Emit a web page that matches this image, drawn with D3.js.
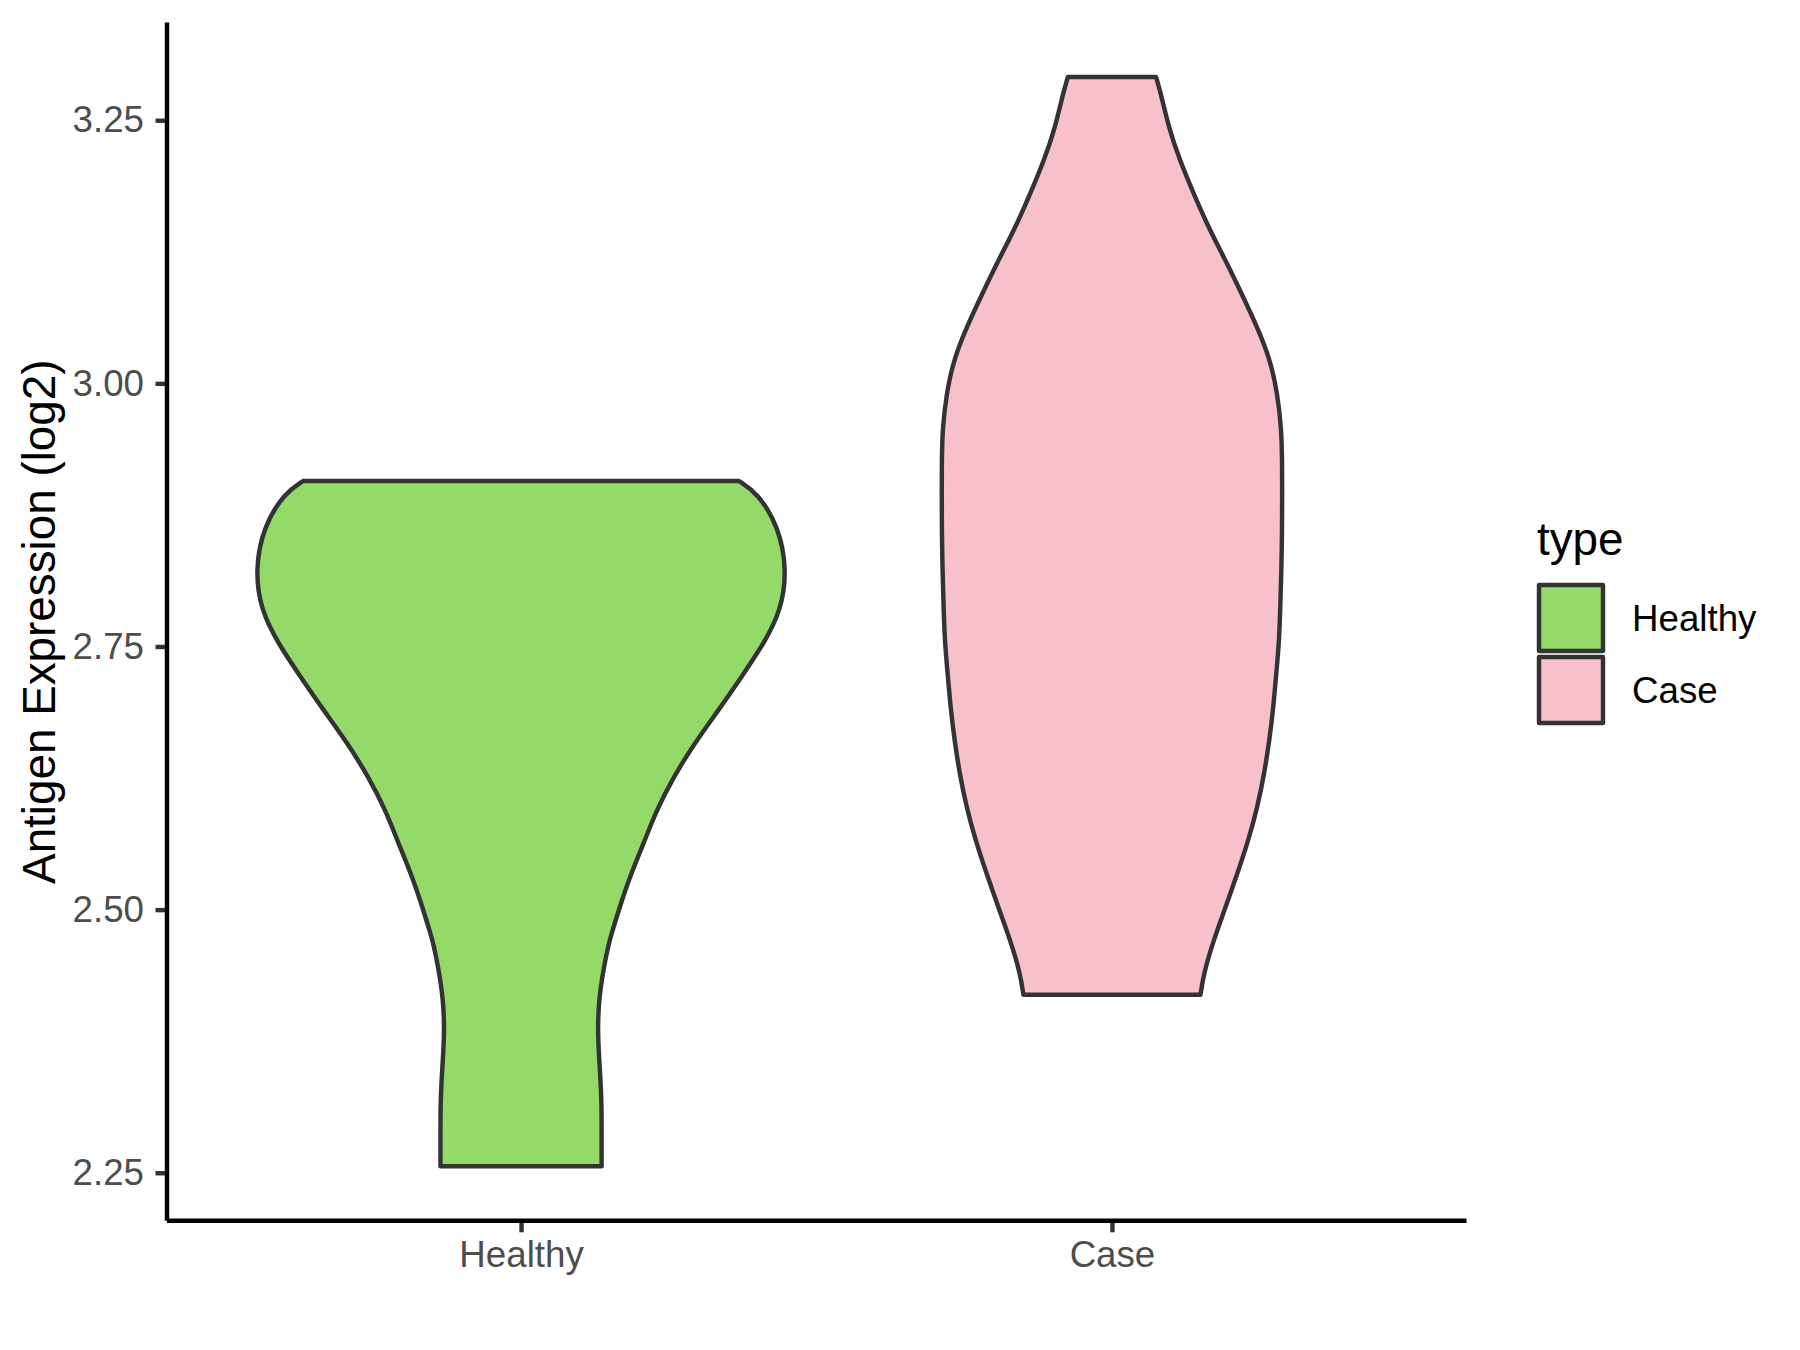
<!DOCTYPE html>
<html>
<head>
<meta charset="utf-8">
<script src="https://cdn.jsdelivr.net/npm/d3@7"></script>
<style>
  html, body { margin: 0; padding: 0; background: #ffffff; }
  svg { display: block; font-family: "Liberation Sans", Arial, sans-serif; }
</style>
</head>
<body>
<svg id="chart" width="1800" height="1350"></svg>
<script>
// ---- data ----
const categories = ["Healthy", "Case"];
const yTicks = [2.25, 2.50, 2.75, 3.00, 3.25];
const legendTitle = "type";
const yTitle = "Antigen Expression (log2)";

// violin outline: expression values (top -> bottom) and scaled density (1 = widest)
const healthyValues = [2.9072, 2.8955, 2.8632, 2.8223, 2.7843, 2.7530, 2.7207, 2.6893, 2.6580, 2.6257,
  2.5943, 2.5629, 2.5306, 2.4993, 2.4774, 2.4679, 2.4451, 2.4138, 2.3824, 2.3501, 2.3188, 2.2874, 2.2561];
const healthyDensity = [0.820, 0.891, 0.970, 1.000, 0.978, 0.914, 0.828, 0.742, 0.652, 0.573,
  0.509, 0.461, 0.408, 0.367, 0.341, 0.330, 0.311, 0.292, 0.288, 0.296, 0.303, 0.303, 0.303];

const caseValues = [3.2910, 3.2753, 3.2435, 3.2119, 3.1805, 3.1482, 3.1169, 3.0855, 3.0532, 3.0219,
  2.9905, 2.9582, 2.9268, 2.8955, 2.8632, 2.8195, 2.7872, 2.7558, 2.7245, 2.6922, 2.6608, 2.6295,
  2.5971, 2.5658, 2.5344, 2.5021, 2.4708, 2.4394, 2.4192];
const caseDensity = [0.166, 0.184, 0.213, 0.255, 0.307, 0.363, 0.427, 0.487, 0.547, 0.596,
  0.622, 0.637, 0.640, 0.640, 0.640, 0.637, 0.633, 0.629, 0.618, 0.607, 0.592, 0.573,
  0.547, 0.513, 0.472, 0.427, 0.382, 0.345, 0.333];

const fills = ["#93DA69", "#F7C0CB"];

// ---- layout ----
const svg = d3.select("#chart");
const panel = { left: 166.5, right: 1466.5, top: 22.6, bottom: 1220.8 };
const lw = 4.44;
const tickLen = 11.5;

const series = [
  { name: "Healthy", values: healthyValues, density: healthyDensity },
  { name: "Case", values: caseValues, density: caseDensity }
];

const allVals = healthyValues.concat(caseValues);
const vmin = d3.min(allVals), vmax = d3.max(allVals);
const pad = (vmax - vmin) * 0.05;

const x = d3.scalePoint().domain(categories).range([panel.left, panel.right]).padding(0.6);
const y = d3.scaleLinear().domain([vmin - pad, vmax + pad]).range([panel.bottom, panel.top]);
const halfMax = 0.45 * x.step();

const color = d3.scaleOrdinal().domain(categories).range(fills);

// ---- violins ----
const line = d3.line().curve(d3.curveBasis);
series.forEach(s => {
  const cx = x(s.name);
  const left = s.values.map((v, i) => [cx - s.density[i] * halfMax, y(v)]);
  const right = s.values.map((v, i) => [cx + s.density[i] * halfMax, y(v)]).reverse();
  const dl = line(left);
  const dr = line(right);
  const d = dl + "L" + dr.slice(1) + "Z";
  svg.append("path")
    .attr("d", d)
    .attr("fill", color(s.name))
    .attr("stroke", "#333333")
    .attr("stroke-width", lw)
    .attr("stroke-linejoin", "round");
});

// ---- axes ----
const yAxis = d3.axisLeft(y).tickValues(yTicks).tickFormat(d3.format(".2f"))
  .tickSize(tickLen).tickSizeOuter(0).tickPadding(11.5);
const gy = svg.append("g").attr("transform", `translate(${panel.left + 0.5},0)`).call(yAxis);
gy.select(".domain").remove();
gy.selectAll(".tick line").attr("stroke", "#333333").attr("stroke-width", lw);
gy.selectAll(".tick text").attr("fill", "#4D4D4D").attr("font-size", 36.7)
  .attr("font-family", "Liberation Sans, Arial, sans-serif");

const xAxis = d3.axisBottom(x).tickSize(tickLen).tickSizeOuter(0).tickPadding(9);
const gx = svg.append("g").attr("transform", `translate(0,${panel.bottom})`).call(xAxis);
gx.select(".domain").remove();
gx.selectAll(".tick line").attr("stroke", "#333333").attr("stroke-width", lw);
gx.selectAll(".tick text").attr("fill", "#4D4D4D").attr("font-size", 36.7)
  .attr("font-family", "Liberation Sans, Arial, sans-serif");

// axis lines
svg.append("line")
  .attr("x1", panel.left + 0.5).attr("x2", panel.left + 0.5)
  .attr("y1", panel.top).attr("y2", panel.bottom)
  .attr("stroke", "#000").attr("stroke-width", lw);
svg.append("line")
  .attr("x1", panel.left + 0.5).attr("x2", panel.right)
  .attr("y1", panel.bottom).attr("y2", panel.bottom)
  .attr("stroke", "#000").attr("stroke-width", lw);

// y title
svg.append("text")
  .attr("transform", `translate(55,${(panel.top + panel.bottom) / 2}) rotate(-90)`)
  .attr("text-anchor", "middle")
  .attr("font-size", 45.8)
  .attr("fill", "#000")
  .text(yTitle);

// ---- legend ----
const lg = svg.append("g");
lg.append("text").attr("x", 1537).attr("y", 555).attr("font-size", 45.8).attr("fill", "#000").text(legendTitle);
categories.forEach((c, i) => {
  const top = 585 + i * 72;
  lg.append("rect")
    .attr("x", 1539).attr("y", top).attr("width", 64).attr("height", 66)
    .attr("fill", color(c)).attr("stroke", "#333333").attr("stroke-width", lw)
    .attr("stroke-linejoin", "round");
  lg.append("text")
    .attr("x", 1632).attr("y", top + 46)
    .attr("font-size", 36.7).attr("fill", "#000").text(c);
});
</script>
</body>
</html>
